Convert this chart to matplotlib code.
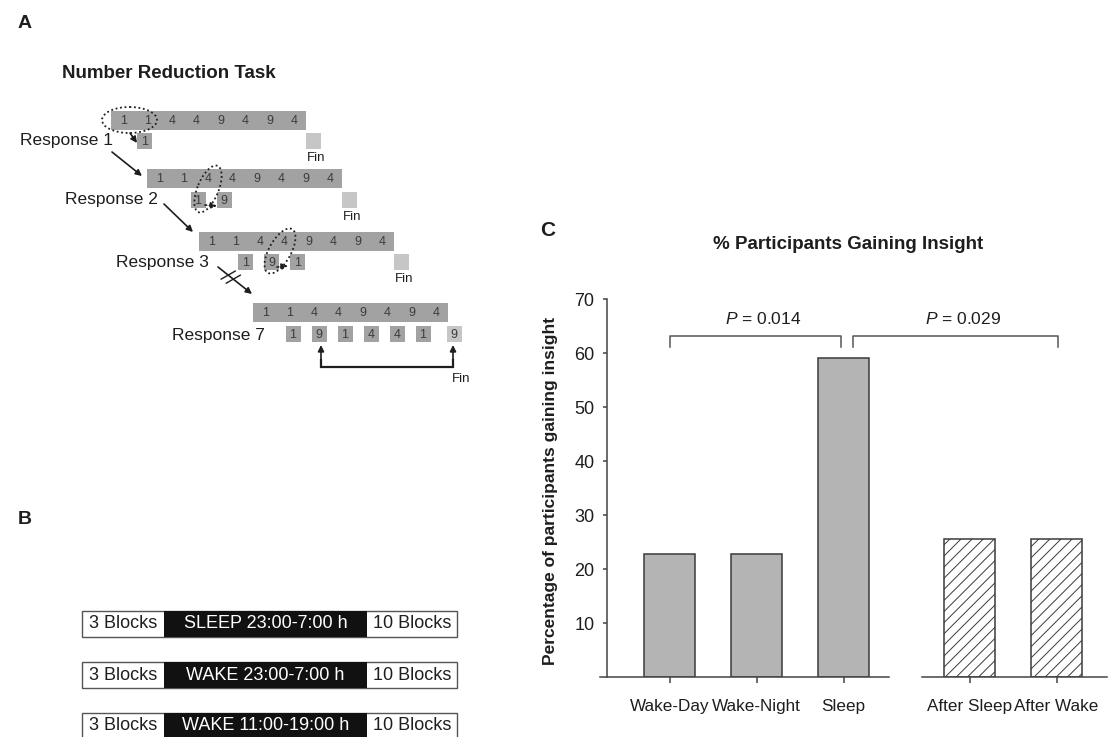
import numpy as np
import matplotlib
matplotlib.use("Agg")
import matplotlib.pyplot as plt
from matplotlib.patches import Rectangle, Ellipse

plt.rcParams['font.family'] = ['Liberation Sans', 'DejaVu Sans']
plt.rcParams['mathtext.fontset'] = 'custom'
plt.rcParams['mathtext.it'] = 'Liberation Sans:italic'
plt.rcParams['mathtext.rm'] = 'Liberation Sans'
plt.rcParams['hatch.linewidth'] = 0.7

# ---- panel C data
groups = ["Wake-Day", "Wake-Night", "Sleep", "After Sleep", "After Wake"]
insight_pct = [22.7, 22.7, 59.1, 25.5, 25.5]
p_values = ["0.014", "0.029"]

# ---- panel A data
sequence = [1, 1, 4, 4, 9, 4, 9, 4]
responses = ["Response 1", "Response 2", "Response 3", "Response 7"]
outputs = [[1], [1, 9], [1, 9, 1], [1, 9, 1, 4, 4, 1, 9]]

# ---- panel B data
conditions = ["SLEEP 23:00-7:00 h", "WAKE 23:00-7:00 h", "WAKE 11:00-19:00 h"]
before_blocks = "3 Blocks"
after_blocks = "10 Blocks"

W, H = 1110, 737
fig = plt.figure(figsize=(W / 100, H / 100), dpi=100)
bg = fig.add_axes([0, 0, 1, 1])
bg.set_xlim(0, W)
bg.set_ylim(H, 0)
bg.axis('off')

dark = '#1e1e1e'
bar_grey = '#a2a2a2'
fin_grey = '#c6c6c6'
num_col = '#3c3c3c'

# ---------------- panel A
bg.text(18, 23, "A", fontsize=14, fontweight='bold', color=dark, va='center')
bg.text(62, 73, "Number Reduction Task", fontsize=13.5, fontweight='bold',
        color=dark, va='center')

cw, bh = 24.4, 19
row_x = [111, 147, 199, 253]
row_y = [111, 169, 232, 303]
box_x0 = [144.5, 198, 245.5, 293]
box_dy = [22, 23, 22, 23]
label_y = [140, 199, 262, 335]
label_r = [113, 158, 209, 265]
bw, bhs = 15, 16

for i in range(4):
    x0, y0 = row_x[i], row_y[i]
    bg.add_patch(Rectangle((x0, y0), cw * len(sequence), bh, color=bar_grey, lw=0))
    for k, v in enumerate(sequence):
        bg.text(x0 + cw * (k + 0.5), y0 + bh / 2 + 0.5, str(v), fontsize=9,
                color=num_col, ha='center', va='center')
    by = y0 + box_dy[i]
    outs = outputs[i]
    fin_left = x0 + cw * len(sequence)
    for k, v in enumerate(outs):
        if i == 3 and k == len(outs) - 1:
            cx = fin_left + 6
            col = fin_grey
        else:
            cx = box_x0[i] + 26 * k
            col = bar_grey
        bg.add_patch(Rectangle((cx - bw / 2, by), bw, bhs, color=col, lw=0))
        bg.text(cx, by + bhs / 2 + 0.5, str(v), fontsize=9, color=num_col,
                ha='center', va='center')
    if i < 3:
        bg.add_patch(Rectangle((fin_left, by), bw, bhs, color=fin_grey, lw=0))
        bg.text(fin_left + 1, by + bhs + 9, "Fin", fontsize=9.5, color=dark,
                va='center')
    bg.text(label_r[i], label_y[i], responses[i], fontsize=12.5, color=dark,
            ha='right', va='center')

bg.text(452, 379, "Fin", fontsize=9.5, color=dark, va='center')

# dotted ellipses
for (cx, cy, ew, eh, ang) in [(129.5, 120, 55, 26, 0),
                              (208, 189, 50, 21, -67.5),
                              (280, 251, 50, 22, -61)]:
    bg.add_patch(Ellipse((cx, cy), ew, eh, angle=ang, fill=False,
                         ls=(0, (1, 1.5)), lw=1.3, color=dark))


def arrow(p0, p1, ls='-'):
    bg.annotate('', xy=p1, xytext=p0,
                arrowprops=dict(arrowstyle='-|>', lw=1.2, color=dark, ls=ls,
                                mutation_scale=9, shrinkA=0, shrinkB=0))


arrow((130, 133), (137, 143))
arrow((112, 152), (142, 176))
arrow((205, 205), (217, 206), ls=':')
arrow((164, 204), (193, 232))
arrow((277, 267), (288, 266), ls=':')
arrow((218, 267), (252, 294))
for t in (0.3, 0.45):
    mx, my = 218 + 34 * t, 267 + 27 * t
    bg.plot([mx - 7, mx + 7], [my + 4, my - 4], color=dark, lw=1)

# bracket under response 7
bg.plot([321, 321, 453, 453], [360, 367, 367, 360], color=dark, lw=1.6,
        solid_joinstyle='miter')
arrow((321, 360), (321, 345))
arrow((453, 360), (453, 345))

# ---------------- panel B
bg.text(18, 520, "B", fontsize=14, fontweight='bold', color=dark, va='center')
for i, cond in enumerate(conditions):
    y0 = 611 + 51 * i
    h = 26
    bg.add_patch(Rectangle((82, y0), 375, h, facecolor='white',
                           edgecolor='#555555', lw=1))
    bg.add_patch(Rectangle((164, y0), 203, h, facecolor='#111111', lw=0))
    bg.text(123, y0 + h / 2, before_blocks, fontsize=13, color=dark,
            ha='center', va='center')
    bg.text(265.5, y0 + h / 2, cond, fontsize=13, color='white',
            ha='center', va='center')
    bg.text(412, y0 + h / 2, after_blocks, fontsize=13, color=dark,
            ha='center', va='center')

# ---------------- panel C
px_unit = 87.0
x_first = 669.5
left_px, y0_px, y70_px = 607, 677, 299
xl = (left_px - x_first) / px_unit
xr = (W - x_first) / px_unit
ax = fig.add_axes([left_px / W, (H - y0_px) / H, (W - left_px) / W,
                   (y0_px - y70_px) / H])
ax.set_facecolor('none')
ax.set_xlim(xl, xr)
ax.set_ylim(0, 70)

pos = [0, 1, 2, 3.45, 4.45]
edge = '#3a3a3a'
ax.bar(pos[:3], insight_pct[:3], width=0.59, color='#b4b4b4',
       edgecolor=edge, lw=1.1)
ax.bar(pos[3:], insight_pct[3:], width=0.59, color='white',
       edgecolor=edge, lw=1.1, hatch='///')

for s in ['top', 'right', 'bottom']:
    ax.spines[s].set_visible(False)
ax.spines['left'].set_color('#444444')
ax.spines['left'].set_linewidth(1.1)
ax.spines['left'].set_bounds(0, 70)

ax.plot([-0.80, 2.52], [0, 0], color='#444444', lw=1.1, clip_on=False)
ax.plot([2.90, 5.03], [0, 0], color='#444444', lw=1.1, clip_on=False)

ax.set_yticks(range(10, 80, 10))
ax.tick_params(axis='y', direction='out', length=3, width=1.1,
               color='#444444', labelsize=13, labelcolor=dark, pad=6)
ax.set_xticks(pos)
ax.set_xticklabels(groups)
ax.tick_params(axis='x', direction='out', length=4.5, width=1.1,
               color='#444444', labelsize=12.3, labelcolor=dark, pad=11)
# nudge the second label like the original
ax.get_xticklabels()[1].set_x(1.07)

brackets = [(0, 1.97), (2.11, 4.47)]
for (a, b), p in zip(brackets, p_values):
    ax.plot([a, a, b, b], [61.1, 63.1, 63.1, 61.1], color='#555555', lw=1.1,
            clip_on=False)
    ax.text((a + b) / 2 + 0.09, 66.3, r"$P$ = " + p, fontsize=12.5,
            color=dark, ha='center', va='center')

bg.text(550, 491, "Percentage of participants gaining insight", fontsize=12.5,
        fontweight='bold', color=dark, rotation=90, ha='center', va='center')
bg.text(848, 244, "% Participants Gaining Insight", fontsize=13.5,
        fontweight='bold', color=dark, ha='center', va='center')
bg.text(540, 230, "C", fontsize=15, fontweight='bold', color=dark, va='center')

fig.savefig("out.png", dpi=100)
